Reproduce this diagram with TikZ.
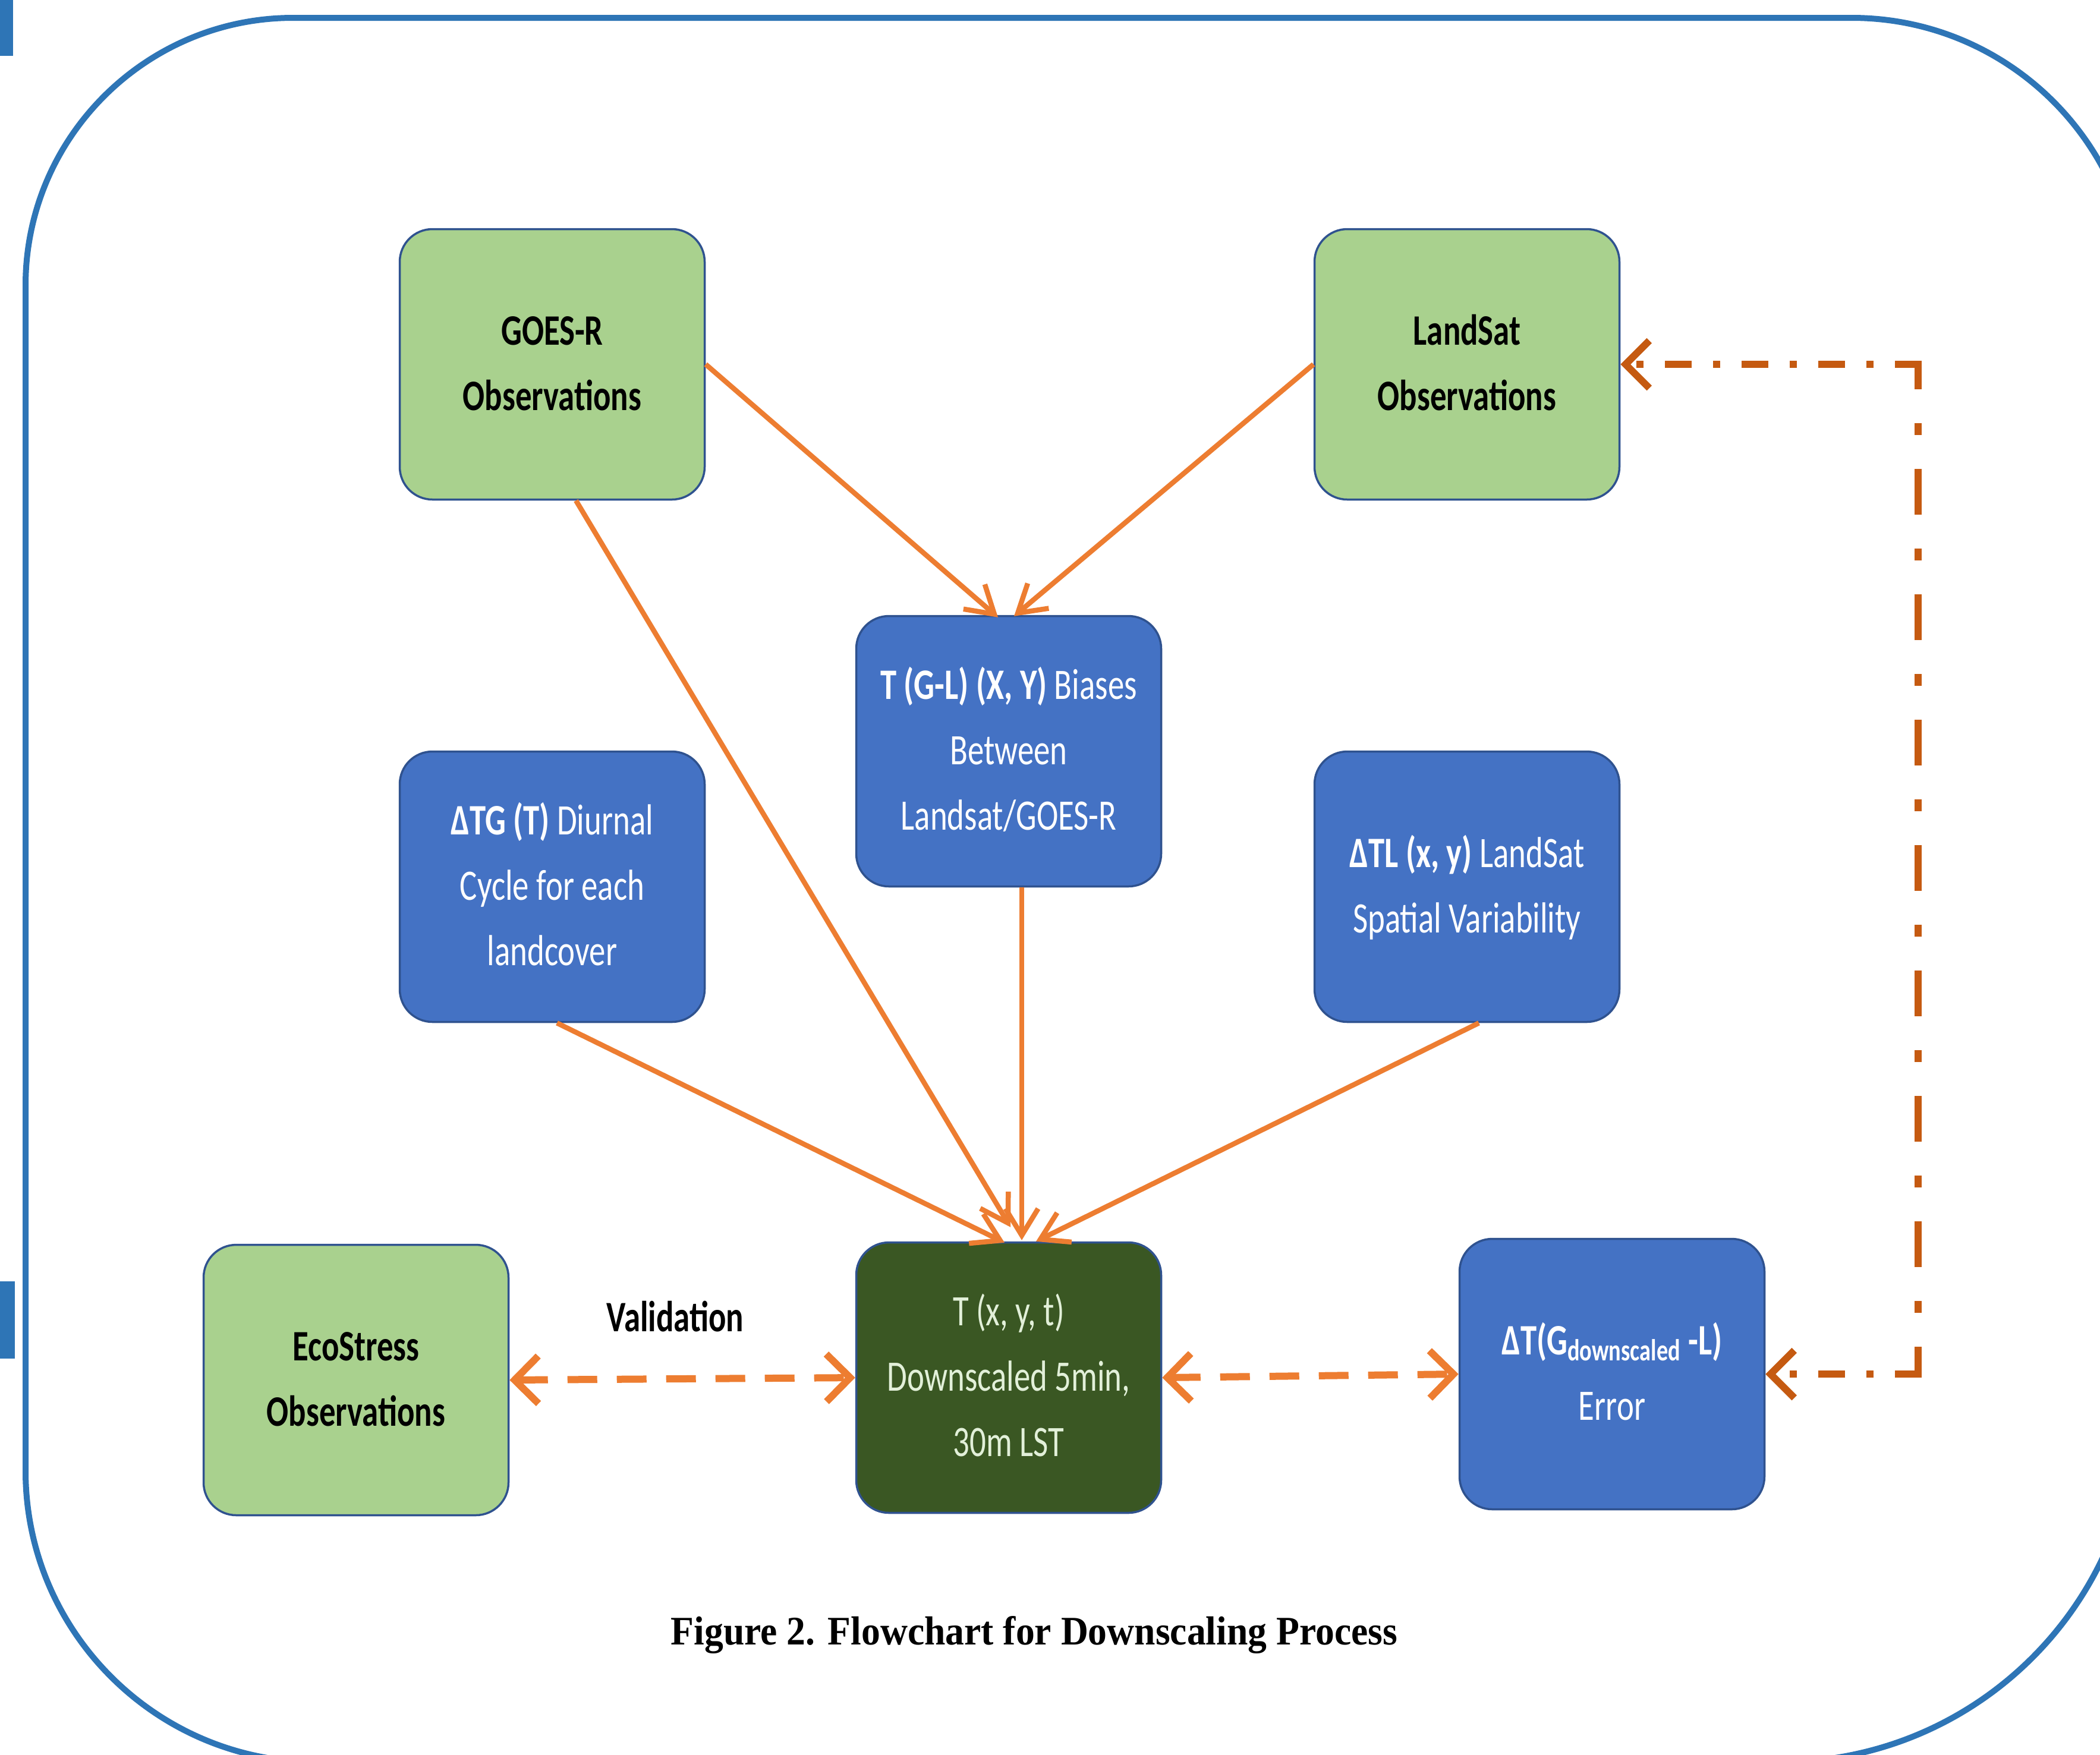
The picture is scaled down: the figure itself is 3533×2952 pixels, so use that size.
\documentclass[tikz,border=0pt]{standalone}
\usepackage{fontspec}
\setmainfont{Carlito}
\newfontfamily\capfont{Liberation Serif}
\usepackage{graphicx}
\usetikzlibrary{arrows.meta,calc}
\definecolor{framec}{HTML}{2E75B6}
\definecolor{lgreen}{HTML}{A9D18E}
\definecolor{mblue}{HTML}{4472C4}
\definecolor{dgreen}{HTML}{3A5723}
\definecolor{dtext}{HTML}{E2F0D9}
\definecolor{boxline}{HTML}{2F528F}
\definecolor{orng}{HTML}{ED7D31}
\definecolor{dorng}{HTML}{C55A11}
\newcommand{\bt}[1]{\scalebox{0.75}[1]{\begin{tabular}{@{}c@{}}#1\end{tabular}}}
\begin{document}
\begin{tikzpicture}[x=0.1mm,y=-0.1mm,
  box/.style={rectangle, rounded corners=5.5mm, minimum width=51.3mm, minimum height=45.5mm,
    inner sep=0pt, draw=boxline, line width=0.35mm, font=\fontsize{20.8pt}{31.3pt}\selectfont},
  gbox/.style={box, fill=lgreen, text=black},
  bbox/.style={box, fill=mblue, text=white},
  dbox/.style={box, fill=dgreen, text=dtext},
  arr/.style={draw=orng, line width=0.85mm, -{Straight Barb[length=4.5mm,width=5.5mm]}},
  darr/.style={draw=orng, line width=1.2mm, dash pattern=on 5mm off 3.3mm,
    {Straight Barb[length=4mm,width=8mm]}-{Straight Barb[length=4mm,width=8mm]}},
  ddh/.style={draw=dorng, line width=1.2mm, dash pattern=on 4.5mm off 3.6mm on 1.2mm off 3.6mm,
    -{Straight Barb[length=4mm,width=8mm]}},
  ddv/.style={draw=dorng, line width=1.2mm, dash pattern=on 7.7mm off 5.7mm on 2mm off 5.7mm,
    dash phase=3.5mm},
  lbl/.style={inner sep=0pt, font=\fontsize{20.8pt}{31.3pt}\selectfont\bfseries},
  captext/.style={inner sep=0pt, font=\capfont\bfseries\fontsize{19.4pt}{23pt}\selectfont}
]
\useasboundingbox (0,0) rectangle (3533,2952);
\fill[white] (0,0) rectangle (3533,2952);
% frame
\draw[framec, line width=1mm]
  (493,30) -- (3115,30) .. controls (3380,30) and (3595,245) .. (3595,510)
  -- (3595,2365) .. controls (3595,2696) and (3326,2965) .. (2995,2965)
  -- (533,2965) .. controls (263,2965) and (43,2745) .. (43,2475)
  -- (43,480) .. controls (43,232) and (245,30) .. (493,30) -- cycle;
\fill[framec] (0,0) rectangle (22,94);
\fill[framec] (0,2156) rectangle (25,2286);

% nodes
\node[gbox] (goes) at (929,613) {\bt{\bfseries GOES-R\\\bfseries Observations}};
\node[gbox] (land) at (2468,613) {\bt{\bfseries LandSat\\\bfseries Observations}};
\node[bbox] (tgl) at (1697,1264) {\bt{{\bfseries T (G-L) (X, Y)} Biases\\Between\\Landsat/GOES-R}};
\node[bbox] (dtg) at (929,1492) {\bt{{\bfseries ΔTG (T)} Diurnal\\Cycle for each\\landcover}};
\node[bbox] (dtl) at (2468,1492) {\bt{{\bfseries ΔTL (x, y)} LandSat\\Spatial Variability}};
\node[gbox] (eco) at (599,2322) {\bt{\bfseries EcoStress\\\bfseries Observations}};
\node[dbox] (txyt) at (1697,2318) {\bt{T (x, y, t)\\Downscaled 5min,\\30m LST}};
\node[bbox] (err) at (2712,2312) {\bt{\bfseries ΔT(G\textsubscript{downscaled} -L)\\Error}};
\node[lbl] (val) at (1136,2215) {\scalebox{0.75}[1]{Validation}};
\node[captext] (caption) at (1740,2751) {\scalebox{0.933}[1]{Figure 2. Flowchart for Downscaling Process}};

% connectors
\draw[arr] (goes.east) -- ($(tgl.north)+(-18,4)$);
\draw[arr] (land.west) -- ($(tgl.north)+(9,2)$);
\draw[arr] ($(goes.south)+(40,0)$) -- ($(txyt.north)+(3,-24)$);
\draw[arr] ($(tgl.south)+(22,0)$) -- ($(txyt.north)+(22,-2)$);
\draw[arr] ($(dtg.south)+(8,0)$) -- ($(txyt.north)+(-7,2)$);
\draw[arr] ($(dtl.south)+(20,0)$) -- ($(txyt.north)+(46,0)$);
\draw[darr] (eco.east) -- (txyt.west);
\draw[darr] (txyt.east) -- (err.west);
\coordinate (turn) at (3227,613);
\coordinate (turnb) at (turn |- err.east);
\draw[ddh] ($(turn)+(6,0)$) -- (land.east);
\draw[ddv] (turn) -- (turnb);
\draw[ddh] ($(turnb)+(6,0)$) -- (err.east);
\end{tikzpicture}
\end{document}
